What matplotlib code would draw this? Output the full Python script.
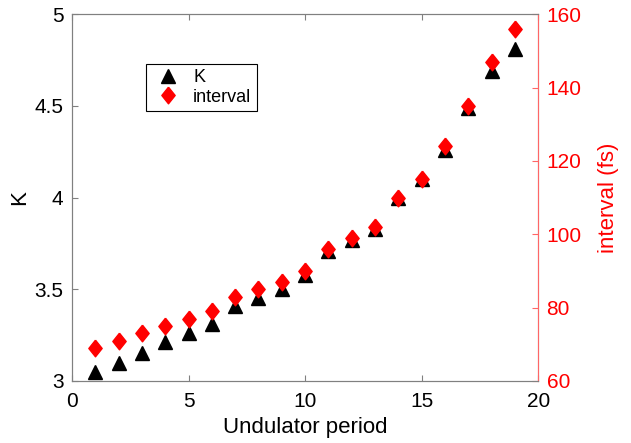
import numpy as np
import matplotlib.pyplot as plt

plt.rcParams['font.family'] = ['Liberation Sans', 'DejaVu Sans']

# undulator period index
period = [1, 2, 3, 4, 5, 6, 7, 8, 9, 10, 11, 12, 13, 14, 15, 16, 17, 18, 19]
# K parameter (left axis)
K = [3.05, 3.10, 3.15, 3.21, 3.26, 3.31, 3.41, 3.45, 3.50, 3.58,
     3.71, 3.77, 3.83, 4.00, 4.10, 4.26, 4.49, 4.69, 4.81]
# interval in fs (right axis)
interval = [69, 71, 73, 75, 77, 79, 83, 85, 87, 90,
            96, 99, 102, 110, 115, 124, 135, 147, 156]

red = '#ff0000'
axred = '#ff6666'
diamond = [(0, 1), (0.8, 0), (0, -1), (-0.8, 0), (0, 1)]

fig = plt.figure(figsize=(6.31, 4.43), dpi=100)
ax = fig.add_axes([0.114, 0.140, 0.739, 0.828])
ax2 = ax.twinx()

h1, = ax.plot(period, K, '^', color='black', ms=10, ls='none', label='K')
h2, = ax2.plot(period, interval, marker=diamond, color=red, ms=12, ls='none',
               label='interval')

ax.set_xlim(0, 20)
ax.set_ylim(3, 5)
ax.set_xticks([0, 5, 10, 15, 20])
ax.set_yticks([3, 3.5, 4, 4.5, 5])
ax.set_yticklabels(['3', '3.5', '4', '4.5', '5'])
ax2.set_ylim(60, 160)
ax2.set_yticks([60, 80, 100, 120, 140, 160])

ax.set_xlabel('Undulator period', fontsize=16, labelpad=4)
ax.set_ylabel('K', fontsize=16, labelpad=3)
ax2.set_ylabel('interval (fs)', fontsize=16, color=red, labelpad=12)

for a in (ax, ax2):
    for s in a.spines.values():
        s.set_color('#808080')
        s.set_linewidth(0.8)
ax2.spines['right'].set_color(axred)
ax.tick_params(direction='in', labelsize=15, top=True, color='#808080', length=4)
ax.tick_params(axis='x', pad=8)
ax.tick_params(axis='y', pad=6)
ax2.tick_params(direction='in', labelsize=15, colors=red, length=4, pad=6)
ax2.tick_params(axis='y', color=axred)

leg = ax.legend([h1, h2], ['K', 'interval'], loc='upper left',
                bbox_to_anchor=(0.14, 0.89), fontsize=13, fancybox=False,
                edgecolor='black', framealpha=1, handletextpad=0.5,
                handlelength=1.8, borderpad=0.3, labelspacing=0.15)
leg.get_frame().set_linewidth(0.8)

fig.savefig('out.png', dpi=100)
